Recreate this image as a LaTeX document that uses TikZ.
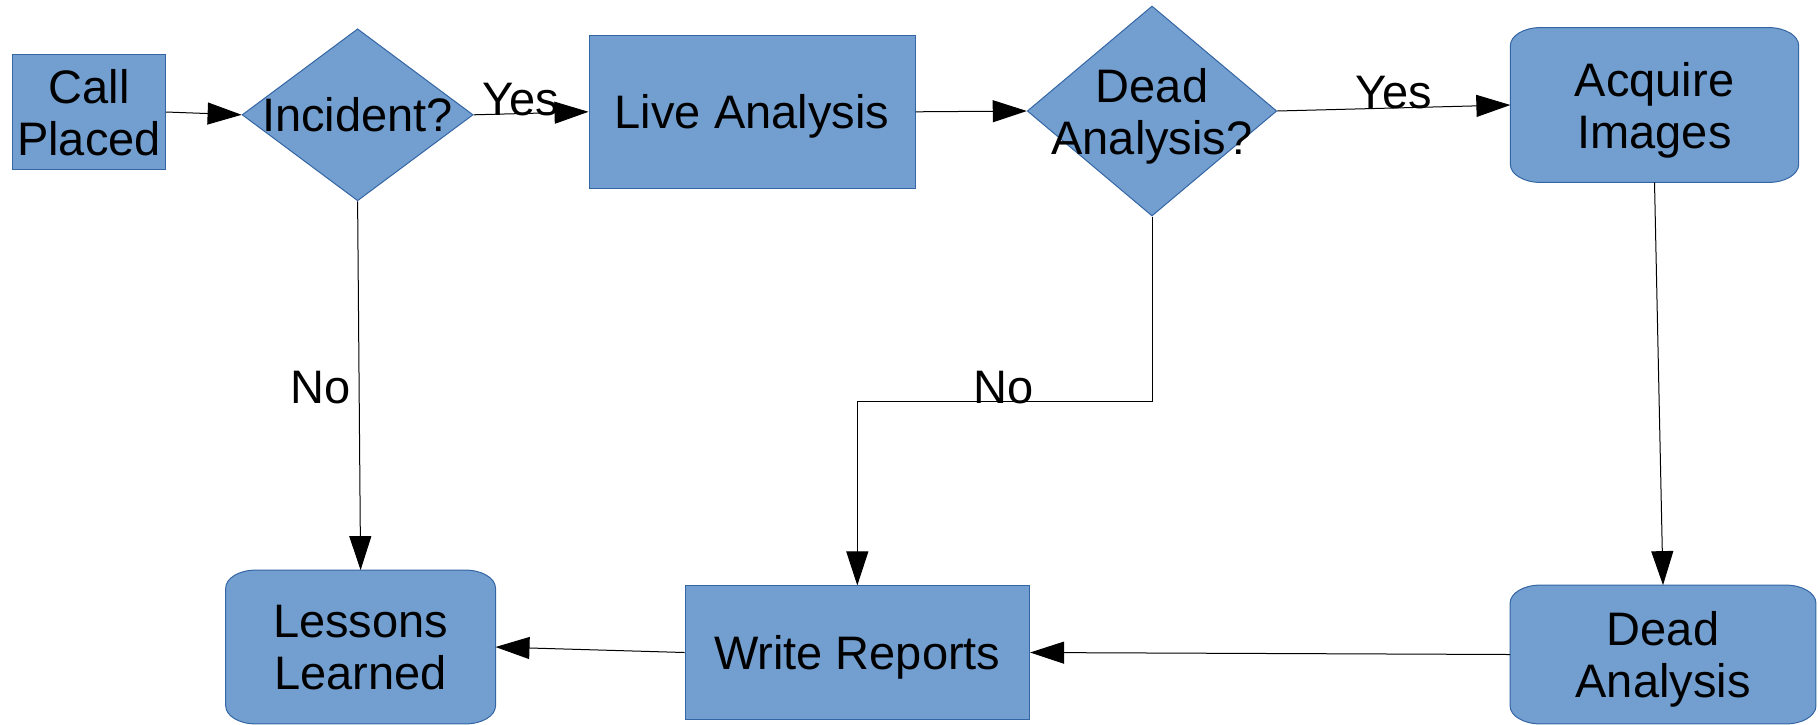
\documentclass[tikz,border=0pt]{standalone}
\usepackage{fontspec}
\setmainfont{Liberation Sans}
\usetikzlibrary{shapes.geometric,arrows.meta,backgrounds}
\definecolor{fillc}{HTML}{729FCF}
\definecolor{bord}{HTML}{3465A4}
\newcommand{\ellbox}[1]{%
  \draw[box] ([xshift=15pt]#1.north west) -- ([xshift=-15pt]#1.north east)
    arc[start angle=90,end angle=0,x radius=15pt,y radius=9pt]
    -- ([yshift=9pt]#1.south east)
    arc[start angle=0,end angle=-90,x radius=15pt,y radius=9pt]
    -- ([xshift=15pt]#1.south west)
    arc[start angle=270,end angle=180,x radius=15pt,y radius=9pt]
    -- ([yshift=-9pt]#1.north west)
    arc[start angle=180,end angle=90,x radius=15pt,y radius=9pt] -- cycle;}
\begin{document}
\begin{tikzpicture}[x=0.5pt,y=-0.5pt,
  every node/.style={font=\fontsize{23.5}{26}\selectfont, align=center, text depth=0pt},
  box/.style={draw=bord, fill=fillc, line width=0.5pt, inner sep=0pt},
  rbox/.style={inner sep=0pt},
  dia/.style={box, diamond},
  arr/.style={line width=0.5pt, -{Triangle[length=17pt,width=11pt]}},
  lab/.style={inner sep=0pt}]
\useasboundingbox (0,0) rectangle (1818,724);
% nodes
\node[box, minimum width=76.5pt, minimum height=57.5pt] (cp) at (89,112) {Call\\Placed};
\node[dia, minimum width=115.5pt, minimum height=86pt] (inc) at (357.6,114.8) {};
\node[lab] (inct) at (inc) {Incident?};
\node[box, minimum width=163pt, minimum height=76.5pt] (la) at (752,111.8) {Live Analysis};
\node[dia, minimum width=124.75pt, minimum height=105pt] (dq) at (1152,111) {};
\node[lab] (dqt) at (1152,111.5) {Dead\\Analysis?};
\node[rbox, minimum width=143.75pt, minimum height=77pt] (aq) at (1654.5,105) {Acquire\\Images};
\node[rbox, minimum width=134.5pt, minimum height=76.5pt] (ll) at (360.6,647) {Lessons\\Learned};
\node[box, minimum width=172.25pt, minimum height=66.6pt] (wr) at (857.3,652.5) {Write Reports};
\node[rbox, minimum width=152.5pt, minimum height=69pt] (da) at (1663,654.5) {Dead\\Analysis};
\begin{scope}[on background layer]
  \ellbox{aq}
  \ellbox{ll}
  \ellbox{da}
\end{scope}
% connectors
\draw[arr] (cp.east) -- (inc.west);
\draw[arr] (inc.east) -- (la.west);
\draw[arr] (la.east) -- (dq.west);
\draw[arr] (dq.east) -- (aq.west);
\draw[arr] (inc.south) -- (ll.north);
\coordinate (bend1) at (1152,401);
\coordinate (bend2) at (857.3,401);
\draw[arr] (dq.south) -- (bend1) -- (bend2) -- (wr.north);
\draw[arr] (aq.south) -- (da.north);
\draw[arr] (da.west) -- (wr.east);
\draw[arr] (wr.west) -- (ll.east);
% labels
\node[lab] (y1) at (520.6,99.7) {Yes};
\node[lab] (y2) at (1393.6,92.8) {Yes};
\node[lab] (n1) at (321,387.8) {No};
\node[lab] (n2) at (1004,387.8) {No};
\end{tikzpicture}
\end{document}
